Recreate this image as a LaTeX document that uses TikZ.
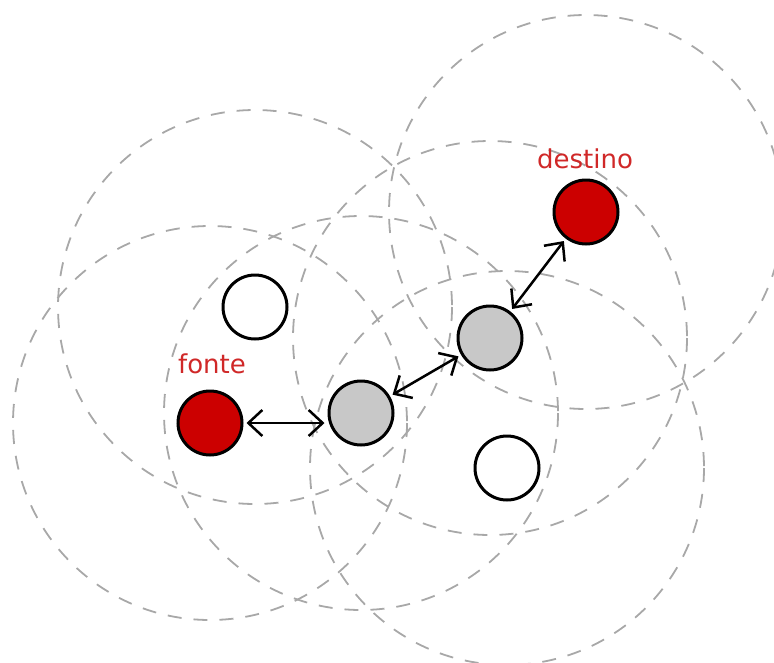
\documentclass[tikz,border=0pt]{standalone}
\usepackage{fontspec}
\setmainfont{DejaVu Sans}
\usetikzlibrary{arrows.meta}
\definecolor{nodered}{HTML}{CC0000}
\definecolor{nodegray}{HTML}{C8C8C8}
\definecolor{rangegray}{HTML}{A8A8A8}
\definecolor{labelred}{HTML}{D02828}
\tikzset{
  station/.style={circle, draw=black, line width=3pt, minimum size=64pt, inner sep=0pt},
  endpoint/.style={station, fill=nodered},
  relay/.style={station, fill=nodegray},
  idle/.style={station, fill=white},
  radiorange/.style={draw=rangegray, line width=1.8pt, dash pattern=on 14pt off 12pt},
  hop/.style={{Straight Barb[length=14pt,width=26pt]}-{Straight Barb[length=14pt,width=26pt]}, line width=2.5pt, shorten <=3pt, shorten >=3pt},
  tag/.style={text=labelred, font=\fontsize{26}{30}\selectfont}
}
\begin{document}
\begin{tikzpicture}[x=1pt,y=-1pt]
\useasboundingbox (0,0) rectangle (774,662);
% positions of the stations
\coordinate (pf) at (210,423);
\coordinate (pw1) at (255,307);
\coordinate (pg1) at (361,413);
\coordinate (pg2) at (490,338);
\coordinate (pd) at (586,212);
\coordinate (pw2) at (507,468);
% transmission ranges
\foreach \p in {pf,pw1,pg1,pg2,pd,pw2}
  \draw[radiorange] (\p) circle[radius=197];
% stations
\node[endpoint] (fonte) at (pf) {};
\node[idle] (w1) at (pw1) {};
\node[relay] (g1) at (pg1) {};
\node[relay] (g2) at (pg2) {};
\node[endpoint] (destino) at (pd) {};
\node[idle] (w2) at (pw2) {};
% labels
\node[tag, anchor=base] (lf) at (212,373) {fonte};
\node[tag, anchor=base] (ld) at (585,168) {destino};
% hops along the route
\draw[hop] (fonte.east) -- (fonte.east -| g1.west);
\draw[hop] (g1) -- (g2);
\draw[hop] (g2) -- (destino);
\end{tikzpicture}
\end{document}
